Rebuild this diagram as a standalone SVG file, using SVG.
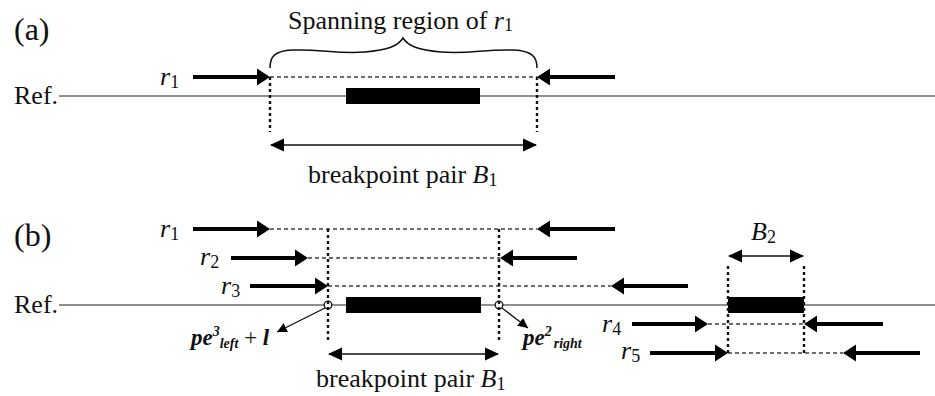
<svg xmlns="http://www.w3.org/2000/svg" width="935" height="396" viewBox="0 0 935 396">
  <style>
    .txt { font-family: "Liberation Serif", "Times New Roman", serif; fill: #111; }
    .big { font-size: 26px; }
    .it { font-style: italic; }
    .sub { font-size: 18px; font-style: normal; }
    .pe { font-family: "Liberation Serif", serif; font-size: 23px; font-weight: bold; font-style: italic; fill: #111; }
    .pesm { font-size: 14px; }
    .ref { stroke: #6a6a6a; stroke-width: 1.7; fill: none; }
    .read { stroke: #000; stroke-width: 4; fill: none; }
    .fwd { marker-end: url(#thick); }
    .gap { stroke: #6f6f6f; stroke-width: 2.2; stroke-dasharray: 4 3; fill: none; }
    .bound { stroke: #111; stroke-width: 2.4; stroke-dasharray: 3 3; fill: none; }
    .span { stroke: #111; stroke-width: 1.4; fill: none; marker-start: url(#thin); marker-end: url(#thin); }
    .ptr { stroke: #111; stroke-width: 1.3; fill: none; marker-end: url(#small); }
    .block { fill: #000; }
    .pt { fill: #fff; stroke: #111; stroke-width: 1.3; }
  </style>
  <defs>
    <marker id="thick" markerUnits="userSpaceOnUse" markerWidth="16" markerHeight="20" refX="7" refY="9" orient="auto">
      <path d="M0,0.5 L13,9 L0,17.5 z" fill="#000"/>
    </marker>
    <marker id="thin" markerUnits="userSpaceOnUse" markerWidth="16" markerHeight="14" refX="13" refY="7" orient="auto-start-reverse">
      <path d="M0,0.5 L14,7 L0,13.5 z" fill="#000"/>
    </marker>
    <marker id="small" markerUnits="userSpaceOnUse" markerWidth="12" markerHeight="10" refX="10" refY="5" orient="auto">
      <path d="M0,0 L10,5 L0,10 z" fill="#000"/>
    </marker>
  </defs>

  <!-- panel labels -->
  <text class="txt" x="14" y="40" font-size="32">(a)</text>
  <text class="txt" x="14" y="246" font-size="32">(b)</text>

  <!-- reference lines -->
  <g id="ref-a">
    <text class="txt big" x="14" y="104">Ref.</text>
    <line class="ref" x1="59" y1="96" x2="935" y2="96"/>
  </g>
  <g id="ref-b">
    <text class="txt big" x="14" y="313">Ref.</text>
    <line class="ref" x1="59" y1="305" x2="935" y2="305"/>
  </g>

  <!-- breakpoint blocks -->
  <g id="block-a"><rect class="block" x="346" y="88" width="134" height="16"/></g>
  <g id="block-b1"><rect class="block" x="346" y="297" width="135" height="16"/></g>
  <g id="block-b2"><rect class="block" x="728" y="297" width="76" height="16"/></g>

  <!-- labels -->
  <g id="label-span">
    <text class="txt big" x="288" y="29">Spanning region of <tspan class="it">r</tspan><tspan class="sub" dy="2">1</tspan></text>
    <path d="M270,68 C270,56 275,51 292,50 C322,49 335,54 365,52 C388,50 398,46 403,38 C408,46 418,50 441,52 C471,54 484,49 514,50 C531,51 537,56 537,68" fill="none" stroke="#111" stroke-width="1.5"/>
  </g>
  <g id="label-B1a">
    <text class="txt big" x="308" y="183">breakpoint pair <tspan class="it">B</tspan><tspan class="sub" dy="3">1</tspan></text>
  </g>
  <g id="label-B1b">
    <text class="txt big" x="316" y="387">breakpoint pair <tspan class="it">B</tspan><tspan class="sub" dy="3">1</tspan></text>
  </g>
  <g id="label-B2">
    <text class="txt big it" x="751" y="240">B<tspan class="sub" dy="3">2</tspan></text>
  </g>
  <g id="label-pe-left">
    <text class="pe" x="191" y="345">pe<tspan class="pesm" dy="-9">3</tspan><tspan class="pesm" dy="12">left</tspan><tspan dy="-3" font-weight="normal" font-style="normal"> + </tspan><tspan>l</tspan></text>
  </g>
  <g id="label-pe-right">
    <text class="pe" x="523" y="345">pe<tspan class="pesm" dy="-9">2</tspan><tspan class="pesm" dy="12" dx="2">right</tspan></text>
  </g>

  <!-- read labels -->
  <g id="read-a-r1"><text class="txt big it" x="160" y="85">r<tspan class="sub" dy="3">1</tspan></text></g>
  <g id="read-b-r1"><text class="txt big it" x="160" y="237">r<tspan class="sub" dy="3">1</tspan></text></g>
  <g id="read-b-r2"><text class="txt big it" x="200" y="265">r<tspan class="sub" dy="3">2</tspan></text></g>
  <g id="read-b-r3"><text class="txt big it" x="221" y="294">r<tspan class="sub" dy="3">3</tspan></text></g>
  <g id="read-b-r4"><text class="txt big it" x="602" y="332">r<tspan class="sub" dy="3">4</tspan></text></g>
  <g id="read-b-r5"><text class="txt big it" x="621" y="359">r<tspan class="sub" dy="3">5</tspan></text></g>

  <!-- breakpoint positions -->
  <g id="pos-left"><circle class="pt" cx="328" cy="305" r="3.8"/></g>
  <g id="pos-right"><circle class="pt" cx="499" cy="305" r="3.8"/></g>

  <g id="connectors">
    <!-- panel (a) -->
    <line class="gap" x1="270" y1="77" x2="537" y2="77"/>
    <line class="bound" x1="270" y1="77" x2="270" y2="132"/>
    <line class="bound" x1="537" y1="77" x2="537" y2="132"/>
    <line class="read fwd" x1="193" y1="77" x2="264" y2="77"/>
    <line class="read fwd" x1="615" y1="77" x2="543" y2="77"/>
    <line class="span" x1="271" y1="145" x2="536" y2="145"/>

    <!-- panel (b): insert-spanning gaps -->
    <line class="gap" x1="270" y1="229" x2="537" y2="229"/>
    <line class="gap" x1="308" y1="258" x2="500" y2="258"/>
    <line class="gap" x1="328" y1="286" x2="611" y2="286"/>
    <line class="gap" x1="708" y1="324" x2="804" y2="324"/>
    <line class="gap" x1="728" y1="353" x2="843" y2="353"/>

    <!-- breakpoint boundaries -->
    <line class="bound" x1="328" y1="229" x2="328" y2="342"/>
    <line class="bound" x1="499" y1="229" x2="499" y2="342"/>
    <line class="bound" x1="728" y1="266" x2="728" y2="353"/>
    <line class="bound" x1="804" y1="266" x2="804" y2="353"/>

    <!-- read pairs -->
    <line class="read fwd" x1="193" y1="229" x2="264" y2="229"/>
    <line class="read fwd" x1="615" y1="229" x2="543" y2="229"/>
    <line class="read fwd" x1="231" y1="258" x2="302" y2="258"/>
    <line class="read fwd" x1="577" y1="258" x2="506" y2="258"/>
    <line class="read fwd" x1="250" y1="286" x2="322" y2="286"/>
    <line class="read fwd" x1="688" y1="286" x2="617" y2="286"/>
    <line class="read fwd" x1="632" y1="324" x2="702" y2="324"/>
    <line class="read fwd" x1="883" y1="324" x2="810" y2="324"/>
    <line class="read fwd" x1="650" y1="353" x2="722" y2="353"/>
    <line class="read fwd" x1="920" y1="353" x2="849" y2="353"/>

    <!-- spans -->
    <line class="span" x1="329" y1="354" x2="498" y2="354"/>
    <line class="span" x1="729" y1="256" x2="803" y2="256"/>

    <!-- position pointers -->
    <line class="ptr" x1="325" y1="308" x2="277" y2="332"/>
    <line class="ptr" x1="502" y1="308" x2="528" y2="328"/>
  </g>
</svg>
